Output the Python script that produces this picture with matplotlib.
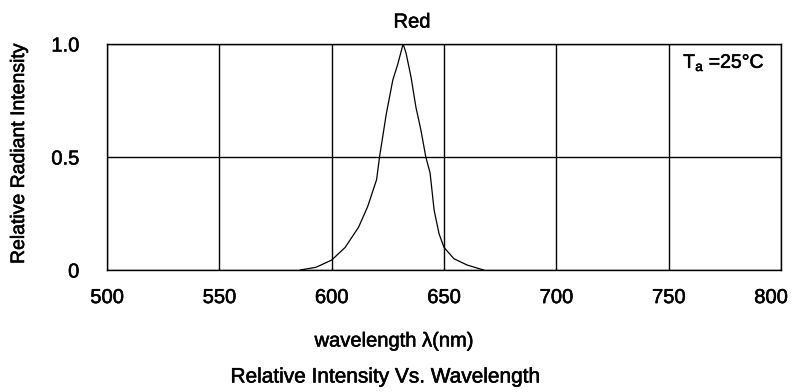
import matplotlib
matplotlib.use("Agg")
import matplotlib.pyplot as plt
import matplotlib.patheffects as pe
from matplotlib.transforms import ScaledTranslation

plt.rcParams['font.family'] = ['Liberation Sans', 'DejaVu Sans']

# spectrum
wavelength = [586, 593, 600, 606, 612, 616, 620, 621.3, 624.3, 627.2, 629.4, 631.8,
              633.1, 635.3, 637.5, 639.7, 641.9, 643.8, 645.6, 647.8, 650, 654.4,
              660.3, 667.6]
intensity = [0.0, 0.012, 0.044, 0.10, 0.19, 0.28, 0.40, 0.50, 0.69, 0.84, 0.91, 1.0,
             0.96, 0.855, 0.72, 0.62, 0.50, 0.43, 0.265, 0.16, 0.10, 0.05,
             0.022, 0.0]

x_ticks = [500, 550, 600, 650, 700, 750, 800]
y_ticks = [0, 0.5, 1.0]
y_tick_labels = ['0', '0.5', '1.0']

heavy = [pe.withStroke(linewidth=0.4, foreground='black')]

fig = plt.figure(figsize=(7.95, 3.92), dpi=100)
ax = fig.add_axes([0.1346, 0.3112, 0.8478, 0.5766])

ax.plot(wavelength, intensity, color='black', lw=0.9)

ax.set_xlim(500, 800)
ax.set_ylim(0, 1.0)
ax.set_xticks(x_ticks)
ax.set_yticks(y_ticks)
ax.set_yticklabels(y_tick_labels)
ax.tick_params(length=0, labelsize=14.5)
ax.tick_params(axis='x', pad=13)
ax.tick_params(axis='y', pad=20)
ax.grid(True, color='black', lw=1)
for s in ax.spines.values():
    s.set_color('black')
    s.set_linewidth(1)
for lab in ax.get_xticklabels() + ax.get_yticklabels():
    lab.set_path_effects(heavy)
last = ax.get_xticklabels()[-1]
last.set_transform(last.get_transform() + ScaledTranslation(-0.1, 0, fig.dpi_scale_trans))

ax.text((765 - 107) / 674, (270 - 63) / 226,
        r'T$_{\mathregular{a}}$ =25°C', transform=ax.transAxes,
        ha='right', va='center', fontsize=14, path_effects=heavy)

fig.text(412 / 795, (392 - 22) / 392, 'Red', ha='center', va='center', fontsize=14.5,
         path_effects=heavy)
fig.text(394 / 795, (392 - 341) / 392, 'wavelength λ(nm)', ha='center', va='center',
         fontsize=14.5, path_effects=heavy)
fig.text(386 / 795, (392 - 377) / 392, 'Relative Intensity Vs. Wavelength', ha='center',
         va='center', fontsize=15, path_effects=heavy)
fig.text(19.5 / 795, (392 - 153) / 392, 'Relative Radiant Intensity', rotation=90,
         ha='center', va='center', fontsize=14, path_effects=heavy)

fig.savefig('out.png', dpi=100)
